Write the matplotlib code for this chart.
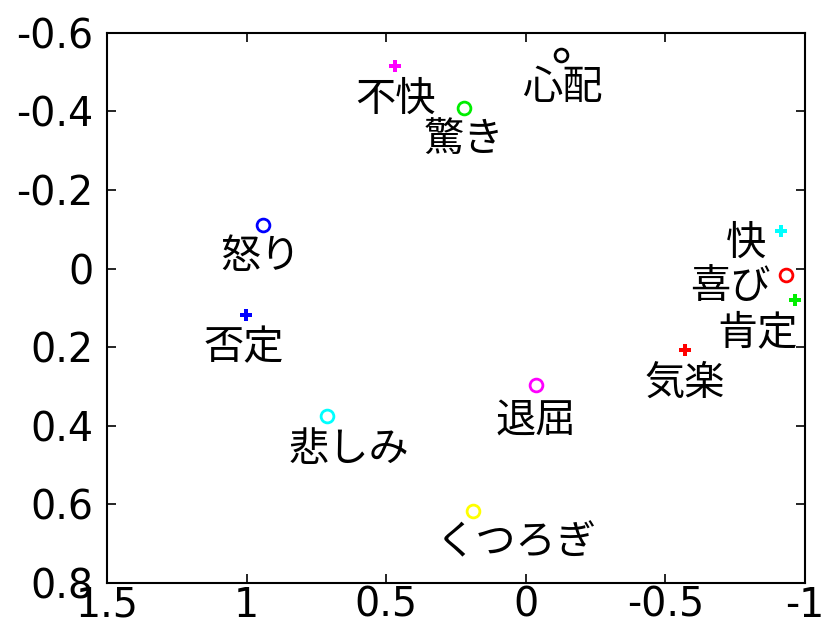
import matplotlib
matplotlib.use("Agg")
import matplotlib.pyplot as plt

plt.rcParams['font.family'] = ['Noto Sans CJK JP', 'DejaVu Sans']

# data
labels = ["心配", "不快", "驚き", "怒り", "快", "喜び", "肯定", "否定", "気楽", "退屈", "悲しみ", "くつろぎ"]
xs = [-0.125, 0.469, 0.222, 0.942, -0.913, -0.931, -0.963, 1.003, -0.569, -0.036, 0.713, 0.190]
ys = [-0.544, -0.516, -0.409, -0.112, -0.097, 0.015, 0.079, 0.117, 0.206, 0.295, 0.374, 0.618]
kinds = ["o", "s", "o", "o", "s", "o", "s", "s", "s", "o", "o", "o"]
colors = ["#000000", "#ff00ff", "#00ee00", "#0000ff", "#00ffff", "#ff0000",
          "#00ee00", "#0000ff", "#ff0000", "#ff00ff", "#00ffff", "#ffff00"]
xticks = [1.5, 1, 0.5, 0, -0.5, -1]
xticklabels = ["1.5", "1", "0.5", "0", "-0.5", "-1"]
yticks = [-0.6, -0.4, -0.2, 0, 0.2, 0.4, 0.6, 0.8]
yticklabels = ["-0.6", "-0.4", "-0.2", "0", "0.2", "0.4", "0.6", "0.8"]

# label offsets in pixels (dx, dy; dy positive = downward), text centre
offsets = [(2, 33), (1, 33), (0, 32), (-2, 32), (-35, 13), (-55, 12),
           (-37, 33), (-2, 33), (0, 34), (0, 35), (22, 34), (44, 31)]

fig = plt.figure(figsize=(8.24, 6.21), dpi=100)
ax = fig.add_axes([0.130, 0.0612, 0.847, 0.8858])

for x, y, k, c, lab, (dx, dy) in zip(xs, ys, kinds, colors, labels, offsets):
    if k == "o":
        ax.plot([x], [y], marker="o", markersize=9.2, markerfacecolor="none",
                markeredgecolor=c, markeredgewidth=2.0, linestyle="none")
    else:
        ax.plot([x], [y], marker="P", markersize=9, color=c,
                markeredgewidth=0, linestyle="none")
    ax.annotate(lab, (x, y), xytext=(dx, -dy), textcoords="offset pixels",
                ha="center", va="center", fontsize=29, color="black")

ax.set_xlim(1.5, -1)
ax.set_ylim(0.8, -0.6)
ax.set_xticks(xticks)
ax.set_xticklabels(xticklabels, family="DejaVu Sans")
ax.set_yticks(yticks)
ax.set_yticklabels(yticklabels, family="DejaVu Sans")
ax.tick_params(direction="in", length=6.5, width=1.2, labelsize=28.5,
               top=True, right=True)
ax.tick_params(axis="y", pad=10)
ax.tick_params(axis="x", pad=2)
for s in ax.spines.values():
    s.set_linewidth(1.5)

fig.savefig("out.png", dpi=100)
